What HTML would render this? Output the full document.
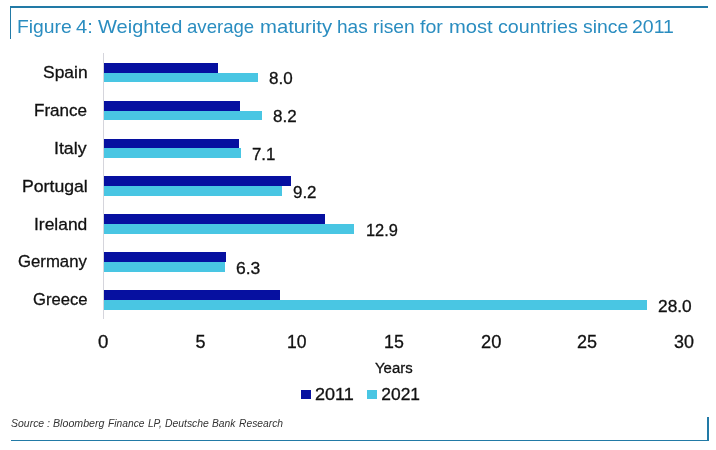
<!DOCTYPE html>
<html>
<head>
<meta charset="utf-8">
<style>
html,body{margin:0;padding:0;background:#fff;}
body{width:716px;height:450px;position:relative;overflow:hidden;font-family:"Liberation Sans",sans-serif;color:#111;}
#L{position:absolute;left:0;top:0;width:716px;height:450px;will-change:transform;}
.abs{position:absolute;}
.t{position:absolute;white-space:nowrap;line-height:0;height:0;-webkit-text-stroke:0.3px currentColor;}
.frame{background:#227aa6;}
.d{position:absolute;left:103.8px;height:9.9px;background:#0610a0;}
.l{position:absolute;left:103.8px;height:9.7px;background:#49c6e3;}
</style>
</head>
<body>
<div id="L">
<div class="abs frame" style="left:10px;top:6.4px;width:698px;height:1.6px;"></div>
<div class="abs frame" style="left:9.8px;top:6.4px;width:1.6px;height:32.3px;"></div>
<div class="abs frame" style="left:10.8px;top:439.6px;width:698.2px;height:1.5px;"></div>
<div class="abs frame" style="left:707.1px;top:417px;width:1.8px;height:24.3px;"></div>

<div class="t" style="left:17.27px;top:27px;font-size:19px;color:#2a8dc0;transform:scaleX(1.0175);transform-origin:0 50%;-webkit-text-stroke:0;">Figure</div>
<div class="t" style="left:76.40px;top:27px;font-size:19px;color:#2a8dc0;transform:scaleX(1.0618);transform-origin:0 50%;-webkit-text-stroke:0;">4:</div>
<div class="t" style="left:98.17px;top:27px;font-size:19px;color:#2a8dc0;transform:scaleX(1.0548);transform-origin:0 50%;-webkit-text-stroke:0;">Weighted</div>
<div class="t" style="left:187.27px;top:27px;font-size:19px;color:#2a8dc0;transform:scaleX(0.9788);transform-origin:0 50%;-webkit-text-stroke:0;">average</div>
<div class="t" style="left:260.07px;top:27px;font-size:19px;color:#2a8dc0;transform:scaleX(1.0672);transform-origin:0 50%;-webkit-text-stroke:0;">maturity</div>
<div class="t" style="left:337.42px;top:27px;font-size:19px;color:#2a8dc0;transform:scaleX(1.0035);transform-origin:0 50%;-webkit-text-stroke:0;">has</div>
<div class="t" style="left:373.43px;top:27px;font-size:19px;color:#2a8dc0;transform:scaleX(1.0142);transform-origin:0 50%;-webkit-text-stroke:0;">risen</div>
<div class="t" style="left:420.44px;top:27px;font-size:19px;color:#2a8dc0;transform:scaleX(1.0312);transform-origin:0 50%;-webkit-text-stroke:0;">for</div>
<div class="t" style="left:448.77px;top:27px;font-size:19px;color:#2a8dc0;transform:scaleX(1.0616);transform-origin:0 50%;-webkit-text-stroke:0;">most</div>
<div class="t" style="left:497.92px;top:27px;font-size:19px;color:#2a8dc0;transform:scaleX(1.0340);transform-origin:0 50%;-webkit-text-stroke:0;">countries</div>
<div class="t" style="left:582.69px;top:27px;font-size:19px;color:#2a8dc0;transform:scaleX(1.0209);transform-origin:0 50%;-webkit-text-stroke:0;">since</div>
<div class="t" style="left:632.47px;top:27px;font-size:19px;color:#2a8dc0;transform:scaleX(1.0264);transform-origin:0 50%;-webkit-text-stroke:0;">2011</div>
<div class="abs" style="left:102.8px;top:53px;width:1.1px;height:266px;background:#d5d5dc;"></div>
<div class="d" style="top:62.70px;width:114.2px;"></div><div class="l" style="top:72.60px;width:154.0px;"></div>
<div class="d" style="top:100.63px;width:136.0px;"></div><div class="l" style="top:110.53px;width:158.6px;"></div>
<div class="d" style="top:138.56px;width:135.4px;"></div><div class="l" style="top:148.46px;width:137.0px;"></div>
<div class="d" style="top:176.49px;width:187.4px;"></div><div class="l" style="top:186.39px;width:177.8px;"></div>
<div class="d" style="top:214.42px;width:221.0px;"></div><div class="l" style="top:224.32px;width:249.8px;"></div>
<div class="d" style="top:252.35px;width:122.3px;"></div><div class="l" style="top:262.25px;width:121.3px;"></div>
<div class="d" style="top:290.28px;width:176.7px;"></div><div class="l" style="top:300.18px;width:542.8px;"></div>
<div class="t" style="left:43.12px;top:72px;font-size:17.4px;transform:scaleX(1.0024);transform-origin:0 50%;">Spain</div>
<div class="t" style="left:34.25px;top:110px;font-size:17.4px;transform:scaleX(0.9808);transform-origin:0 50%;">France</div>
<div class="t" style="left:54.24px;top:148px;font-size:17.4px;transform:scaleX(1.0215);transform-origin:0 50%;">Italy</div>
<div class="t" style="left:21.80px;top:186px;font-size:17.4px;transform:scaleX(1.0153);transform-origin:0 50%;">Portugal</div>
<div class="t" style="left:33.77px;top:224px;font-size:17.4px;transform:scaleX(1.0020);transform-origin:0 50%;">Ireland</div>
<div class="t" style="left:17.66px;top:261px;font-size:17.4px;transform:scaleX(0.9628);transform-origin:0 50%;">Germany</div>
<div class="t" style="left:32.66px;top:299px;font-size:17.4px;transform:scaleX(0.9571);transform-origin:0 50%;">Greece</div>
<div class="t" style="left:269.16px;top:78px;font-size:17.3px;transform:scaleX(0.9856);transform-origin:0 50%;">8.0</div>
<div class="t" style="left:273.46px;top:116px;font-size:17.3px;transform:scaleX(0.9832);transform-origin:0 50%;">8.2</div>
<div class="t" style="left:251.85px;top:154px;font-size:17.3px;transform:scaleX(0.9743);transform-origin:0 50%;">7.1</div>
<div class="t" style="left:292.64px;top:192px;font-size:17.3px;transform:scaleX(0.9798);transform-origin:0 50%;">9.2</div>
<div class="t" style="left:366.09px;top:230px;font-size:17.3px;transform:scaleX(0.9492);transform-origin:0 50%;">12.9</div>
<div class="t" style="left:236.31px;top:268px;font-size:17.3px;transform:scaleX(1.0145);transform-origin:0 50%;">6.3</div>
<div class="t" style="left:657.52px;top:306px;font-size:17.3px;transform:scaleX(1.0023);transform-origin:0 50%;">28.0</div>
<div class="t" style="left:98.12px;top:342px;font-size:18.0px;transform:scaleX(1.0353);transform-origin:0 50%;">0</div>
<div class="t" style="left:195.55px;top:342px;font-size:18.0px;transform:scaleX(1.0000);transform-origin:0 50%;">5</div>
<div class="t" style="left:287.26px;top:342px;font-size:18.0px;transform:scaleX(0.9734);transform-origin:0 50%;">10</div>
<div class="t" style="left:383.84px;top:342px;font-size:18.0px;transform:scaleX(0.9902);transform-origin:0 50%;">15</div>
<div class="t" style="left:480.51px;top:342px;font-size:18.0px;transform:scaleX(1.0177);transform-origin:0 50%;">20</div>
<div class="t" style="left:576.82px;top:342px;font-size:18.0px;transform:scaleX(1.0014);transform-origin:0 50%;">25</div>
<div class="t" style="left:674.25px;top:342px;font-size:18.0px;transform:scaleX(0.9946);transform-origin:0 50%;">30</div>
<div class="t" style="left:375.32px;top:368px;font-size:14.9px;transform:scaleX(1.0020);transform-origin:0 50%;">Years</div>
<div class="abs" style="left:301px;top:389.5px;width:9.7px;height:9.8px;background:#0610a0;"></div>
<div class="t" style="left:314.79px;top:394px;font-size:17.4px;transform:scaleX(1.0378);transform-origin:0 50%;">2011</div>
<div class="abs" style="left:367.4px;top:389.5px;width:10px;height:9.8px;background:#49c6e3;"></div>
<div class="t" style="left:381.32px;top:394px;font-size:17.4px;transform:scaleX(1.0000);transform-origin:0 50%;">2021</div>
<div class="t" style="left:11.06px;top:423px;font-size:11.7px;font-style:italic;color:#333;transform:scaleX(0.8966);transform-origin:0 50%;-webkit-text-stroke:0;">Source</div>
<div class="t" style="left:46.73px;top:423px;font-size:11.7px;font-style:italic;color:#333;transform:scaleX(0.9300);transform-origin:0 50%;-webkit-text-stroke:0;">:</div>
<div class="t" style="left:52.76px;top:423px;font-size:11.7px;font-style:italic;color:#333;transform:scaleX(0.9105);transform-origin:0 50%;-webkit-text-stroke:0;">Bloomberg</div>
<div class="t" style="left:107.67px;top:423px;font-size:11.7px;font-style:italic;color:#333;transform:scaleX(0.8783);transform-origin:0 50%;-webkit-text-stroke:0;">Finance</div>
<div class="t" style="left:147.98px;top:423px;font-size:11.7px;font-style:italic;color:#333;transform:scaleX(0.8626);transform-origin:0 50%;-webkit-text-stroke:0;">LP,</div>
<div class="t" style="left:165.37px;top:423px;font-size:11.7px;font-style:italic;color:#333;transform:scaleX(0.8884);transform-origin:0 50%;-webkit-text-stroke:0;">Deutsche</div>
<div class="t" style="left:212.27px;top:423px;font-size:11.7px;font-style:italic;color:#333;transform:scaleX(0.8785);transform-origin:0 50%;-webkit-text-stroke:0;">Bank</div>
<div class="t" style="left:239.47px;top:423px;font-size:11.7px;font-style:italic;color:#333;transform:scaleX(0.8794);transform-origin:0 50%;-webkit-text-stroke:0;">Research</div>
</div>
</body>
</html>
